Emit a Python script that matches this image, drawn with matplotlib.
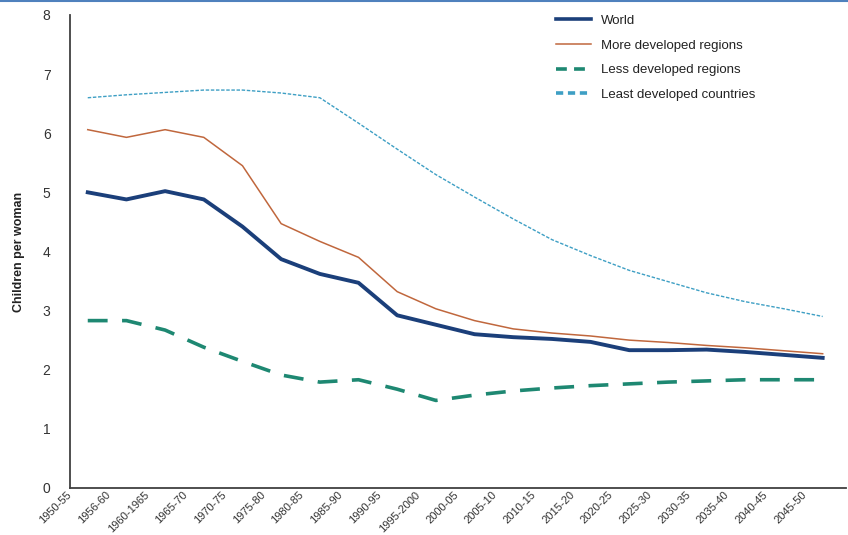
import numpy as np
import matplotlib
matplotlib.use("Agg")
import matplotlib.pyplot as plt
from matplotlib.lines import Line2D

plt.rcParams['font.family'] = ['Liberation Sans', 'DejaVu Sans']

# periods (labels as printed in the source chart)
periods = ['1950-55', '1956-60', '1960-1965', '1965-70', '1970-75', '1975-80',
           '1980-85', '1985-90', '1990-95', '1995-2000', '2000-05', '2005-10',
           '2010-15', '2015-20', '2020-25', '2025-30', '2030-35', '2035-40',
           '2040-45', '2045-50']

world = [5.00, 4.88, 5.02, 4.88, 4.42, 3.87, 3.62, 3.47, 2.92, 2.76,
         2.60, 2.55, 2.52, 2.47, 2.33, 2.33, 2.34, 2.30, 2.25, 2.20]
more_dev = [6.06, 5.93, 6.06, 5.93, 5.45, 4.47, 4.17, 3.90, 3.32, 3.03,
            2.83, 2.69, 2.62, 2.57, 2.50, 2.46, 2.41, 2.37, 2.32, 2.27]
less_dev = [2.83, 2.83, 2.67, 2.38, 2.14, 1.91, 1.79, 1.83, 1.67, 1.48,
            1.57, 1.64, 1.69, 1.73, 1.76, 1.79, 1.81, 1.83, 1.83, 1.83]
least_dev = [6.60, 6.65, 6.69, 6.73, 6.73, 6.68, 6.60, 6.17, 5.73, 5.30,
             4.92, 4.55, 4.20, 3.93, 3.68, 3.49, 3.30, 3.15, 3.03, 2.90]

fig = plt.figure(figsize=(8.48, 5.35), dpi=100)
ax = fig.add_axes([0.0825, 0.088, 0.915, 0.884])

x = np.arange(len(periods))
ax.plot(x, world, color='#1B3F7A', lw=2.8, label='World', solid_joinstyle='round')
ax.plot(x, more_dev, color='#C0673D', lw=1.1, label='More developed regions')
ax.plot(x, less_dev, color='#1E8872', lw=2.6, dashes=(5.5, 4), label='Less developed regions')
ax.plot(x, least_dev, color='#3E9FC4', lw=1.0, dashes=(2.5, 1.2), label='Least developed countries')

ax.set_xlim(-0.46, 19.6)
ax.set_ylim(0, 8)
ax.set_yticks(range(0, 9))
ax.set_xticks(x - 0.46)
ax.set_xticklabels(periods, rotation=45, ha='right', va='center',
                   rotation_mode='anchor', fontsize=8, color='#333333')
ax.tick_params(axis='x', length=0, pad=4)
ax.tick_params(axis='y', length=0, pad=14, labelsize=10, labelcolor='#333333')

for side in ['top', 'right']:
    ax.spines[side].set_visible(False)
for side in ['left', 'bottom']:
    ax.spines[side].set_color('#404040')
    ax.spines[side].set_linewidth(1.3)

ax.set_ylabel('Children per woman', fontsize=9, fontweight='bold', color='#222222')
ax.yaxis.set_label_coords(-0.058, 0.5)

handles = [
    Line2D([], [], color='#1B3F7A', lw=2.6),
    Line2D([], [], color='#C0673D', lw=1.1),
    Line2D([], [], color='#1E8872', lw=2.6, dashes=(3, 2)),
    Line2D([], [], color='#3E9FC4', lw=2.6, dashes=(2, 1.3)),
]
labels = ['World', 'More developed regions', 'Less developed regions',
          'Least developed countries']
leg = fig.legend(handles, labels, loc='upper left', bbox_to_anchor=(0.642, 0.995),
                 frameon=False, fontsize=9.5, handlelength=2.6, handletextpad=0.8,
                 labelspacing=0.95)
for t in leg.get_texts():
    t.set_color('#222222')

# thin blue frame line at the top
fig.add_artist(Line2D([0, 1], [0.998, 0.998], transform=fig.transFigure,
                      color='#4F81BD', lw=1.5))

fig.savefig('out.png', dpi=100)
